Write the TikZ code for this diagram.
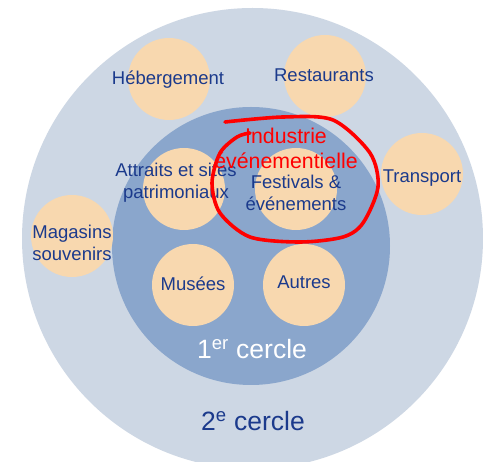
\documentclass[tikz,border=0pt]{standalone}
\usepackage{fontspec}
\setmainfont{Liberation Sans}
\definecolor{fond}{HTML}{CDD7E4}
\definecolor{cercleun}{HTML}{8AA6CC}
\definecolor{peche}{HTML}{F8D8AF}
\definecolor{encre}{HTML}{1B3A8C}
\tikzset{
  bulle/.style={circle, fill=peche, minimum size=82pt, inner sep=0pt},
  etiquette/.style={text=encre, font=\fontsize{18.5}{22}\selectfont, align=center, inner sep=0pt},
}

\begin{document}
\begin{tikzpicture}[x=1pt,y=-1pt]
      \useasboundingbox (0,0) rectangle (483,462);
      \clip (0,0) rectangle (483,462);
      \fill[white] (0,0) rectangle (483,462);

      % les deux cercles
      \fill[fond] (252.5,238.5) circle (230.5pt);
      \fill[cercleun] (251,246) circle (139pt);

      % 2e cercle
      \node[bulle] (heb) at (169,79) {};
      \node[bulle] (resto) at (325,76) {};
      \node[bulle] (transport) at (422,174) {};
      \node[bulle] (magasins) at (72,236) {};
      % 1er cercle
      \node[bulle] (attraits) at (184,189) {};
      \node[bulle] (festivals) at (296,189) {};
      \node[bulle] (musees) at (193,285) {};
      \node[bulle] (autres) at (304,285) {};

      \node[etiquette] (t-heb) at (168,80) {Hébergement};
      \node[etiquette] (t-resto) at (324,75) {Restaurants};
      \node[etiquette] (t-transport) at (422,178) {Transport};
      \node[etiquette] (t-magasins) at (72,243) {Magasins\\souvenirs};
      \node[etiquette] (t-attraits) at (176,183) {Attraits et sites\\patrimoniaux};
      \node[etiquette] (t-festivals) at (296,193) {Festivals \&\\événements};
      \node[etiquette] (t-musees) at (193,284) {Musées};
      \node[etiquette] (t-autres) at (304,282) {Autres};

      \node[etiquette, text=white, font=\fontsize{26.5}{30}\selectfont] (premier) at (252,349) {1\textsuperscript{er} cercle};
      \node[etiquette, font=\fontsize{26.5}{30}\selectfont] (second) at (253,421) {2\textsuperscript{e} cercle};

      % annotation
      \node[etiquette, text=red, font=\fontsize{21.3}{25}\selectfont] (industrie) at (286,148) {Industrie\\événementielle};
      \draw[red, line width=3.6pt, line cap=round] plot[smooth] coordinates {(225,122) (283,117) (333,120) (370,153) (378,187) (363,223) (343,237) (300,242) (250,237) (220,213) (212,183) (220,153) (237,137) (250,133)};
\end{tikzpicture}
\end{document}
